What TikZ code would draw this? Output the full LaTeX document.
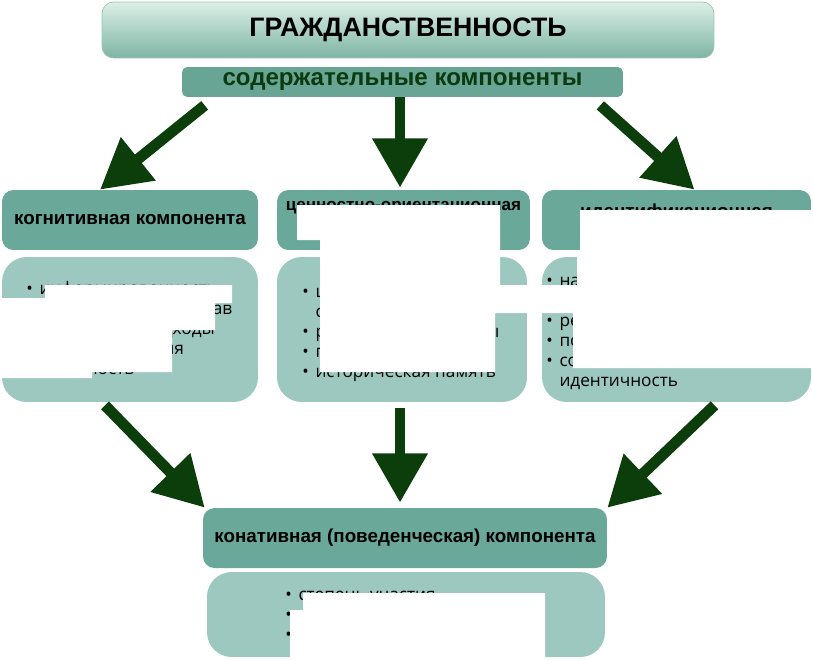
\documentclass[tikz,border=0pt]{standalone}
\usepackage{fontspec}
\setmainfont{Liberation Sans}
\newfontfamily\listfont{Open Sans}
\usetikzlibrary{arrows.meta}
\definecolor{civtop}{HTML}{DCEFE6}
\definecolor{civbottom}{HTML}{7DB5A4}
\definecolor{civedge}{HTML}{9CC4B8}
\definecolor{civdark}{HTML}{68A594}
\definecolor{civhead}{HTML}{6AA999}
\definecolor{civbody}{HTML}{9DC8C0}
\definecolor{civarrow}{HTML}{0C3E0C}
\definecolor{civtext}{HTML}{0A3A0F}
\newcommand{\bul}{\makebox[7.5pt][l]{\textbullet}}
\newcommand{\cont}{\hspace*{7.5pt}}

\begin{document}
\begin{tikzpicture}[x=0.02cm, y=-0.02cm,
    every node/.style={inner sep=0pt},
    head/.style={fill=civhead, rounded corners=6.5pt, minimum height=1.2cm, align=center, font=\bfseries\fontsize{10.7}{10.8}\selectfont},
    body/.style={fill=civbody, rounded corners=14pt, minimum height=2.9cm},
    items/.style={anchor=north west, align=left, font=\listfont\fontsize{9.8}{11.34}\selectfont},
    flow/.style={civarrow, line width=6.2pt, -{Triangle[width=30pt,length=28pt]}},
    redact/.style={fill=white, draw=none}]
  \useasboundingbox (0,0) rectangle (813,659);

  % top of the scheme
  \node[draw=civedge, top color=civtop, bottom color=civbottom, rounded corners=6.5pt, minimum width=12.24cm, minimum height=1.12cm, font=\bfseries\fontsize{15.2}{16}\selectfont] (civ) at (408,30) {ГРАЖДАНСТВЕННОСТЬ};
  \node[fill=civdark, rounded corners=3pt, minimum width=8.82cm, minimum height=0.6cm, text=civtext, font=\bfseries\fontsize{13.7}{15}\selectfont] (sub) at (402.5,82) {содержательные компоненты};

  % three components
  \node[head, minimum width=5.12cm] (cog) at (130,220) {когнитивная компонента};
  \node[head, minimum width=5.06cm, font=\bfseries\fontsize{9.7}{16}\selectfont] (val) at (403.5,220) {ценностно-ориентационная\\компонента};
  \node[head, minimum width=5.38cm] (idn) at (676.5,220) {идентификационная\\компонента};
  \node[body, minimum width=5.12cm] (cogtxt) at (130,329.5) {};
  \node[body, minimum width=5.0cm] (valtxt) at (402,329.5) {};
  \node[body, minimum width=5.38cm] (idntxt) at (676.5,329.5) {};

  \node[items] (coglist) at (26,281.5) {\bul информированность\\ \bul знание основных прав\\ \cont концепты и подходы\\ \cont и формы участия\\ \bul активность};
  \node[items] (vallist) at (302,288) {\bul ценности гражданского\\ \cont согласия\\ \bul религиозные взгляды\\ \bul патриотизм\\ \bul историческая память};
  \node[items] (idnlist) at (546,277) {\bul национальная гордость\\ \cont и самосознание\\ \bul региональная общность\\ \bul политическая позиция\\ \bul сознательная\\ \cont идентичность};

  % behaviour
  \node[head, minimum width=8.08cm] (con) at (405,538) {конативная (поведенческая) компонента};
  \node[body, minimum width=7.96cm, minimum height=1.7cm] (contxt) at (406,614.5) {};
  \node[items] (conlist) at (285,591) {\bul степень участия\\ \bul деятельность как гражданин\\ \bul ответственность};

  \draw[flow] ([shift={(23,8)}]sub.south west) -- ([shift={(-30,0)}]cog.north);
  \draw[flow] ([shift={(-2.5,0)}]sub.south) -- ([shift={(-3.5,-2)}]val.north);
  \draw[flow] ([shift={(-23,8)}]sub.south east) -- ([shift={(18,0)}]idn.north);
  \draw[flow] ([shift={(-25,3)}]cogtxt.south) -- ([shift={(2,0)}]con.north west);
  \draw[flow] ([shift={(-2,6)}]valtxt.south) -- ([shift={(-5,-5)}]con.north);
  \draw[flow] ([shift={(38,3)}]idntxt.south) -- (con.north east);

  % blanked parts
  \fill[redact] (45,285) -- (232,285) -- (232,303) -- (215,303) -- (215,330) -- (172,330) -- (172,372) -- (92,372) -- (92,378) -- (0,378) -- (0,298) -- (45,298) -- cycle;
  \fill[redact] (297,205) -- (500,205) -- (500,285) -- (532,285) -- (532,313) -- (495,313) -- (495,372) -- (320,372) -- (320,240) -- (297,240) -- cycle;
  \fill[redact] (580,210) -- (813,210) -- (813,368) -- (573,368) -- (573,313) -- (540,313) -- (540,285) -- (577,285) -- (577,250) -- (580,250) -- cycle;
  \fill[redact] (303,593) -- (545,593) -- (545,659) -- (290,659) -- (290,610) -- (303,610) -- cycle;
\end{tikzpicture}
\end{document}
